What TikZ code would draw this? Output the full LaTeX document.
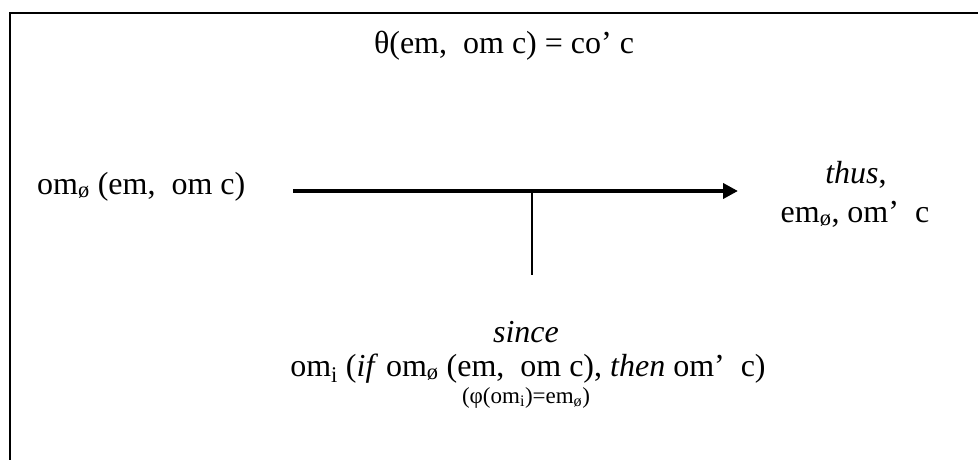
\documentclass[tikz,border=0pt]{standalone}
\usepackage{fontspec}
\setmainfont{Liberation Serif}
\usetikzlibrary{arrows.meta,positioning}

\begin{document}
\begin{tikzpicture}[x=1pt, y=-1pt, >=Triangle, every node/.style={font=\fontsize{32}{36}\selectfont, inner sep=0pt, anchor=base}]
  \useasboundingbox (0,0) rectangle (978,460);
  \draw[line width=2pt] (10,460) -- (10,13) -- (978,13);

  \node (theta) at (504,54) {θ(em,\ \ om c) = co’ c};
  \node[anchor=base west] (premise) at (37,194) {om\textsubscript{ø} (em,\ \ om c)};
  \node (thus) at (856,183) {\textit{thus},};
  \node (concl) at (855,222) {em\textsubscript{ø}, om’\ \ c};
  \node (since) at (526,342) {\textit{since}};
  \node (rule) at (528,376) {om\textsubscript{i} (\textit{if} om\textsubscript{ø} (em,\ \ om c), \textit{then} om’\ \ c)};
  \node[font=\fontsize{23}{27}\selectfont] (phi) at (526,403) {(φ(om\textsubscript{i})=em\textsubscript{ø})};

  \coordinate (tail) at (293,191);
  \coordinate (head) at (738,191);
  \coordinate (joint) at (532,191);
  \coordinate (stem) at (532,275);

  \draw[->, line width=4pt, arrows={-Triangle[length=15pt, width=15pt]}] (tail) -- (head);
  \draw[line width=1.5pt] (joint) -- (stem);
\end{tikzpicture}
\end{document}
